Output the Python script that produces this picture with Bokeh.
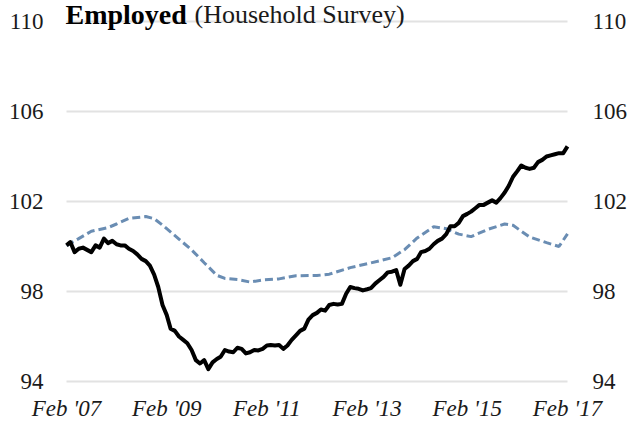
import pandas as pd
from bokeh.plotting import figure
from bokeh.models import Range1d
from bokeh.core.properties import value
from bokeh.embed import file_html
from bokeh.resources import INLINE

# ---- data (index, Feb 2007 = 100) ----
start_month = "2007-02-01"
employed = [
    100.05, 100.20, 99.75, 99.90, 99.95, 99.85, 99.75, 100.05, 99.95, 100.35, 100.15, 100.25,
    100.10, 100.05, 100.05, 99.90, 99.80, 99.65, 99.45, 99.35, 99.15, 98.75, 98.20, 97.40,
    96.95, 96.35, 96.25, 96.00, 95.85, 95.70, 95.40, 94.95, 94.80, 94.95, 94.55, 94.85,
    95.00, 95.10, 95.40, 95.33, 95.30, 95.50, 95.45, 95.25, 95.30, 95.40, 95.38, 95.45,
    95.60, 95.62, 95.60, 95.62, 95.45, 95.60, 95.85, 96.05, 96.25, 96.35, 96.75, 96.95,
    97.05, 97.20, 97.15, 97.40, 97.45, 97.42, 97.45, 97.90, 98.20, 98.15, 98.12, 98.05,
    98.10, 98.15, 98.35, 98.50, 98.65, 98.85, 98.88, 98.95, 98.30, 99.00, 99.15, 99.35,
    99.45, 99.75, 99.80, 99.90, 100.10, 100.25, 100.35, 100.55, 100.90, 100.90, 101.05, 101.35,
    101.45, 101.55, 101.70, 101.85, 101.85, 101.95, 102.05, 101.95, 102.15, 102.40, 102.70, 103.10,
    103.35, 103.60, 103.50, 103.45, 103.50, 103.75, 103.85, 104.00, 104.05, 104.10, 104.15, 104.15,
    104.45,
]

comparison_dates = [
    "2007-02", "2007-05", "2007-08", "2007-12", "2008-02", "2008-05", "2008-09", "2008-11",
    "2009-01", "2009-05", "2009-08", "2009-11", "2010-02", "2010-04", "2010-07", "2010-10",
    "2011-01", "2011-05", "2011-09", "2012-02", "2012-05", "2012-10", "2013-03", "2013-08",
    "2013-11", "2014-02", "2014-06", "2014-09", "2014-12", "2015-03", "2015-07", "2015-11",
    "2016-01", "2016-05", "2016-09", "2016-12", "2017-02",
]
comparison = [
    100.04, 100.35, 100.68, 100.84, 101.00, 101.25, 101.33, 101.24,
    100.95, 100.33, 99.85, 99.28, 98.72, 98.58, 98.53, 98.42,
    98.51, 98.56, 98.70, 98.71, 98.77, 99.06, 99.27, 99.50,
    99.86, 100.38, 100.88, 100.79, 100.55, 100.44, 100.76, 101.00,
    100.94, 100.42, 100.17, 100.00, 100.56,
]

y_ticks = [94, 98, 102, 106, 110]
y_tick_labels = ["94", "98", "102", "106", "110"]
x_tick_dates = ["2007-02", "2009-02", "2011-02", "2013-02", "2015-02", "2017-02"]
x_tick_labels = ["Feb '07", "Feb '09", "Feb '11", "Feb '13", "Feb '15", "Feb '17"]
title_bold = "Employed"
title_rest = "(Household Survey)"

# ---- layout constants (pixels) ----
W, H = 635, 420
PLOT_L, PLOT_R = 66, 567      # where Feb '07 and Feb '17 fall
PLOT_T, PLOT_B = 21, 381      # where 110 and 94 fall
FONT = "Liberation Serif"

dates = pd.date_range(start_month, periods=len(employed), freq="MS")
cdates = pd.to_datetime(comparison_dates)
xtd = pd.to_datetime(x_tick_dates)
x_start, x_end = xtd[0], xtd[-1]
y_lo, y_hi = y_ticks[0], y_ticks[-1]

# ranges cover the whole canvas so that all texts can be drawn through the scales
span = x_end - x_start
per_px_x = span / (PLOT_R - PLOT_L)
per_px_y = (y_hi - y_lo) / (PLOT_B - PLOT_T)
x_range = Range1d(x_start - per_px_x * PLOT_L, x_end + per_px_x * (W - PLOT_R))
y_range = Range1d(y_lo - per_px_y * (H - PLOT_B), y_hi + per_px_y * PLOT_T)

p = figure(
    frame_width=W, frame_height=H, min_border=0,
    x_axis_type="datetime", x_range=x_range, y_range=y_range,
    output_backend="svg", toolbar_location=None,
)
p.xaxis.visible = False
p.yaxis.visible = False
p.xgrid.grid_line_color = None
p.ygrid.grid_line_color = None
p.outline_line_color = None
p.background_fill_color = "white"
p.border_fill_color = "white"

# horizontal gridlines between first and last date
n = len(y_ticks)
p.segment(x0=[x_start] * n, x1=[x_end] * n, y0=y_ticks, y1=y_ticks,
          line_color="#e2e2e2", line_width=2)

# series
p.line(cdates, comparison, line_color="#6a8db3", line_width=3, line_dash="8 4")
p.line(dates, employed, line_color="black", line_width=4, line_join="round")

# y tick labels, left and right
p.text(x=[x_start] * n, y=y_ticks, text=y_tick_labels, text_font=value(FONT),
       text_font_size="23px", text_color="#1a1a1a", text_align="right",
       text_baseline="middle", x_offset=-23)
p.text(x=[x_end] * n, y=y_ticks, text=y_tick_labels, text_font=value(FONT),
       text_font_size="23px", text_color="#1a1a1a", text_align="left",
       text_baseline="middle", x_offset=25)

# x tick labels
p.text(x=xtd, y=[y_lo] * len(xtd), text=x_tick_labels, text_font=value(FONT),
       text_font_style="italic", text_font_size="23px", text_color="#1a1a1a",
       text_align="center", text_baseline="middle", y_offset=27)

# title, just above the top gridline and partly cut at the top edge
p.text(x=[x_start], y=[y_hi], text=[title_bold], text_font=value(FONT),
       text_font_style="bold", text_font_size="28px", text_color="black",
       text_baseline="alphabetic", text_align="left", x_offset=-1, y_offset=-7)
p.text(x=[x_start], y=[y_hi], text=[title_rest], text_font=value(FONT),
       text_font_style="normal", text_font_size="26px", text_color="#1a1a1a",
       text_baseline="alphabetic", text_align="left", x_offset=128, y_offset=-7)

open("out.html", "w").write(file_html(p, INLINE))
